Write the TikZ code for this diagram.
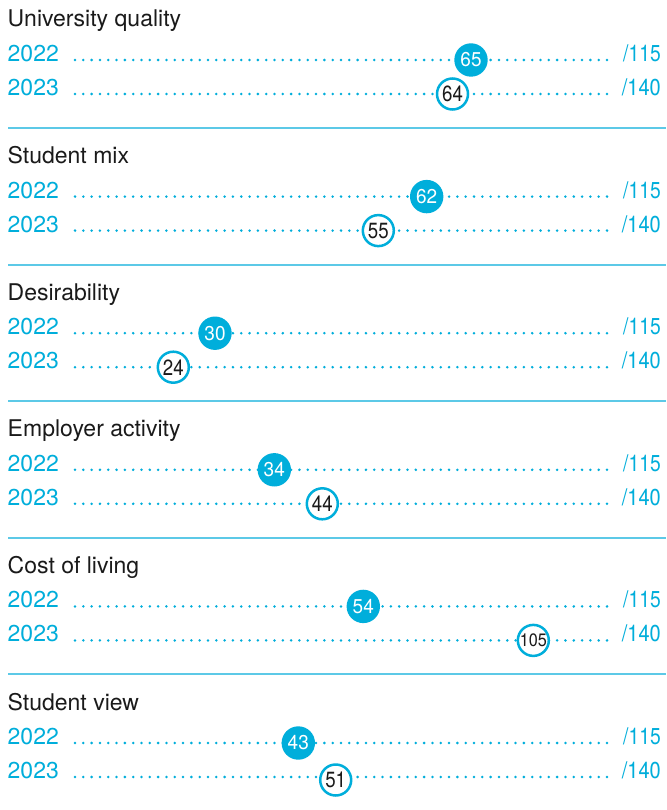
\documentclass[tikz,border=0pt]{standalone}
\usepackage{graphicx}
\usepackage{fontspec}
\setmainfont{TeX Gyre Heros}
\definecolor{cy}{HTML}{00AEDB}
\definecolor{seprl}{HTML}{5CC9E7}
\definecolor{ink}{HTML}{1A1A1A}
\begin{document}
\begin{tikzpicture}[x=1pt,y=-1pt,
  titletext/.style={anchor=base west, inner sep=0pt, font=\fontsize{23}{23}\selectfont, text=ink},
  yeartext/.style={anchor=base west, inner sep=0pt, font=\fontsize{23}{23}\selectfont, text=cy},
  maxtext/.style={anchor=base east, inner sep=0pt, font=\fontsize{23}{23}\selectfont, text=cy},
  dotline/.style={cy, line width=2.8pt, line cap=round, dash pattern=on 0pt off 8.3125pt},
  seprule/.style={seprl, line width=2pt},
  fillmark/.style={circle, fill=cy, minimum size=33.4pt, inner sep=0pt, text=white},
  ringmark/.style={circle, draw=cy, line width=2.5pt, fill=white, minimum size=31pt, inner sep=0pt, text=ink}]
\useasboundingbox[fill=white] (0,0) rectangle (666,810);
\foreach \k/\t/\a/\xa/\b/\xb/\dy/\fs/\sx in {
  0/University quality/65/471/64/452.5/0/22/0.85,
  1/Student mix/62/426.7/55/378.3/0/22/0.85,
  2/Desirability/30/215/24/173.3/0/22/0.85,
  3/Employer activity/34/274.3/44/322.3/0/22/0.85,
  4/Cost of living/54/363.3/105/533.3/0/18/0.9,
  5/Student view/43/298.3/51/335.7/3/22/0.85}{
  \pgfmathsetmacro{\ra}{60+136.6*\k}
  \pgfmathsetmacro{\rb}{\ra+34}
  \node[titletext] (t\k) at (7.5,\ra-33) {\t};
  \node[yeartext] (ya\k) at (7.5,\ra+1.5) {2022};
  \node[yeartext] (yb\k) at (7.5,\rb+1.5) {2023};
  \node[maxtext] (ma\k) at (661,\ra+1.5) {\scalebox{0.84}[1]{/115}};
  \node[maxtext] (mb\k) at (661,\rb+1.5) {\scalebox{0.87}[1]{/140}};
  \coordinate (sa\k) at (75,\ra);
  \coordinate (ea\k) at (607,\ra);
  \coordinate (sb\k) at (75,\rb);
  \coordinate (eb\k) at (607,\rb);
  \draw[dotline] (sa\k) -- (ea\k);
  \draw[dotline] (sb\k) -- (eb\k);
  \node[fillmark, font=\fontsize{20}{20}\selectfont] (ca\k) at (\xa,\ra) {\scalebox{0.95}[1]{\a}};
  \node[ringmark, font=\fontsize{\fs}{\fs}\selectfont] (cb\k) at (\xb,\rb+\dy) {\scalebox{\sx}[1]{\b}};
  \ifnum\k<5
    \coordinate (ls\k) at (8,\ra+68);
    \coordinate (le\k) at (666,\ra+68);
    \draw[seprule] (ls\k) -- (le\k);
  \fi
}
\end{tikzpicture}
\end{document}
